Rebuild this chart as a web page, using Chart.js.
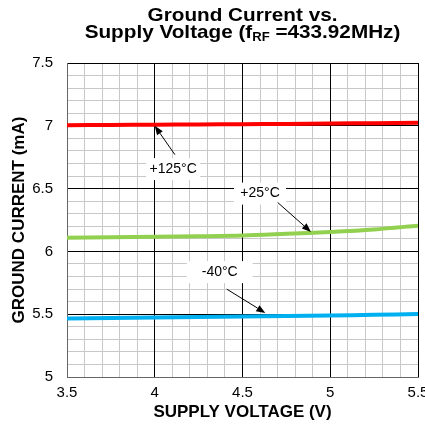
<!DOCTYPE html>
<html>

<head>
  <meta charset="utf-8">
  <title>Ground current vs supply voltage</title>
  <script src="https://cdn.jsdelivr.net/npm/chart.js@4.4.1/dist/chart.umd.min.js" type="text/javascript"></script>
  <style>
    body { margin: 0; background: #fff; }
  </style>
</head>

<body>
  <div style="position: absolute; left: 0; top: 0;">
    <canvas id="chart" width="425" height="428"></canvas>
  </div>
</body>

</html>

<script>
  // supply voltage (V) sample points
  const voltage = [3.5, 3.75, 4, 4.25, 4.5, 4.75, 5, 5.25, 5.5];

  // ground current (mA) per temperature
  const current125 = [7.005, 7.007, 7.009, 7.011, 7.013, 7.015, 7.018, 7.021, 7.025];
  const current25 = [6.108, 6.112, 6.116, 6.120, 6.126, 6.140, 6.155, 6.175, 6.205];
  const currentM40 = [5.466, 5.470, 5.474, 5.478, 5.482, 5.486, 5.490, 5.495, 5.502];

  const seriesNames = ['+125°C', '+25°C', '-40°C'];
  const seriesColors = ['#ff0000', '#92d050', '#00b0f0'];

  const xTickLabels = ['3.5', '4', '4.5', '5', '5.5'];
  const yTickLabels = ['5', '5.5', '6', '6.5', '7', '7.5'];

  const FONT = '"Liberation Sans", Arial, Helvetica, sans-serif';

  function pts(ys) {
    return voltage.map((v, i) => ({ x: v, y: ys[i] }));
  }

  function isMajor(v) {
    return Math.abs(v * 2 - Math.round(v * 2)) < 1e-6;
  }

  function gridColor(ctx) {
    return isMajor(ctx.tick.value) ? '#000' : '#c8c8c8';
  }

  function tickText(list) {
    return function (value) {
      if (!isMajor(value)) return '';
      const s = String(Math.round(value * 10) / 10);
      return list.indexOf(s) >= 0 ? s : '';
    };
  }

  // the y grid is painted after the x grid, so its grey lines cut the black
  // verticals; stroke the major verticals again on top
  const majorGridPlugin = {
    id: 'majorGrid',
    beforeDatasetsDraw(chart) {
      const ctx = chart.ctx;
      const xs = chart.scales.x;
      const area = chart.chartArea;
      ctx.save();
      ctx.strokeStyle = '#000';
      ctx.lineWidth = 1;
      xs.ticks.forEach(t => {
        if (!isMajor(t.value) || t.value <= xs.min) return;
        const px = Math.round(xs.getPixelForValue(t.value) - 0.5) + 0.5;
        ctx.beginPath();
        ctx.moveTo(px, area.top);
        ctx.lineTo(px, area.bottom);
        ctx.stroke();
      });
      ctx.restore();
    }
  };

  // callouts: label position, arrow tail and arrow tip, all in data units
  const callouts = [
    { text: '+125°C', at: [4.105, 6.655], w: 54, tail: [4.115, 6.77], tip: [4.0, 7.0] },
    { text: '+25°C', at: [4.60, 6.46], w: 52, tail: [4.70, 6.39], tip: [4.89, 6.155] },
    { text: '-40°C', at: [4.37, 5.835], w: 66, tail: [4.41, 5.70], tip: [4.63, 5.51] },
  ];

  const calloutPlugin = {
    id: 'callouts',
    afterDatasetsDraw(chart) {
      const ctx = chart.ctx;
      const xs = chart.scales.x;
      const ys = chart.scales.y;
      ctx.save();
      ctx.font = '14px ' + FONT;
      ctx.textAlign = 'center';
      ctx.textBaseline = 'middle';
      callouts.forEach(c => {
        const lx = xs.getPixelForValue(c.at[0]);
        const ly = ys.getPixelForValue(c.at[1]);
        ctx.fillStyle = '#fff';
        ctx.fillRect(lx - c.w / 2, ly - 11, c.w, 22);
        ctx.fillStyle = '#000';
        ctx.fillText(c.text, lx, ly);

        const x0 = xs.getPixelForValue(c.tail[0]);
        const y0 = ys.getPixelForValue(c.tail[1]);
        const x1 = xs.getPixelForValue(c.tip[0]);
        const y1 = ys.getPixelForValue(c.tip[1]);
        const a = Math.atan2(y1 - y0, x1 - x0);
        const head = 9;
        ctx.strokeStyle = '#000';
        ctx.lineWidth = 1;
        ctx.beginPath();
        ctx.moveTo(x0, y0);
        ctx.lineTo(x1 - Math.cos(a) * head, y1 - Math.sin(a) * head);
        ctx.stroke();
        ctx.beginPath();
        ctx.moveTo(x1, y1);
        ctx.lineTo(x1 - Math.cos(a) * head + Math.sin(a) * 3.5, y1 - Math.sin(a) * head - Math.cos(a) * 3.5);
        ctx.lineTo(x1 - Math.cos(a) * head - Math.sin(a) * 3.5, y1 - Math.sin(a) * head + Math.cos(a) * 3.5);
        ctx.closePath();
        ctx.fill();
      });
      ctx.restore();
    }
  };

  // two line title with a subscript; the original is a bit wider than Arial
  const titlePlugin = {
    id: 'twoLineTitle',
    afterDraw(chart) {
      const ctx = chart.ctx;
      const area = chart.chartArea;
      const cx = (area.left + area.right) / 2;
      const stretch = 1.09;
      ctx.save();
      ctx.fillStyle = '#000';
      ctx.textBaseline = 'alphabetic';
      ctx.translate(cx, 0);
      ctx.scale(stretch, 1);
      const big = 'bold 19px ' + FONT;
      const small = 'bold 12px ' + FONT;
      ctx.font = big;
      ctx.textAlign = 'center';
      ctx.fillText('Ground Current vs.', 0, 21);

      const parts = [
        { t: 'Supply Voltage (f', f: big, dy: 0 },
        { t: 'RF', f: small, dy: 3 },
        { t: ' =433.92MHz)', f: big, dy: 0 },
      ];
      let total = 0;
      parts.forEach(p => { ctx.font = p.f; p.w = ctx.measureText(p.t).width; total += p.w; });
      let x = -total / 2;
      ctx.textAlign = 'left';
      parts.forEach(p => {
        ctx.font = p.f;
        ctx.fillText(p.t, x, 37.5 + p.dy);
        x += p.w;
      });
      ctx.restore();
    }
  };

  const data = {
    datasets: [
      { label: seriesNames[0], data: pts(current125), borderColor: seriesColors[0] },
      { label: seriesNames[1], data: pts(current25), borderColor: seriesColors[1] },
      { label: seriesNames[2], data: pts(currentM40), borderColor: seriesColors[2] },
    ].map(d => Object.assign(d, {
      borderWidth: 4,
      pointRadius: 0,
      tension: 0.3,
      fill: false,
    }))
  };

  const options = {
    responsive: false,
    animation: false,
    events: [],
    layout: { padding: { top: 63, right: 7, left: 0, bottom: 0 } },
    plugins: {
      legend: { display: false },
      tooltip: { enabled: false },
    },
    scales: {
      x: {
        type: 'linear',
        min: 3.5,
        max: 5.5,
        afterFit(scale) {
          scale.height = 51;
          scale.paddingLeft = 0;
          scale.paddingRight = 0;
        },
        afterBuildTicks(scale) {
          const t = [];
          for (let i = 0; i <= 20; i++) t.push({ value: Math.round((3.5 + i * 0.1) * 10) / 10 });
          scale.ticks = t;
        },
        ticks: {
          autoSkip: false,
          maxRotation: 0,
          padding: 7,
          color: '#000',
          font: { family: FONT, size: 15 },
          callback: tickText(xTickLabels),
        },
        grid: { color: gridColor, lineWidth: 1, drawTicks: false },
        border: { color: '#666', width: 1 },
        title: {
          display: true,
          text: 'SUPPLY VOLTAGE (V)',
          color: '#000',
          font: { family: FONT, size: 17, weight: 'bold' },
          padding: { top: 0, bottom: 5 },
        },
      },
      y: {
        type: 'linear',
        min: 5,
        max: 7.5,
        afterFit(scale) {
          scale.width = 67;
          scale.paddingTop = 0;
          scale.paddingBottom = 0;
        },
        afterBuildTicks(scale) {
          const t = [];
          for (let i = 0; i <= 25; i++) t.push({ value: Math.round((5 + i * 0.1) * 10) / 10 });
          scale.ticks = t;
        },
        ticks: {
          autoSkip: false,
          padding: 14,
          color: '#000',
          font: { family: FONT, size: 15 },
          callback: tickText(yTickLabels),
        },
        grid: { color: gridColor, lineWidth: 1, drawTicks: false },
        border: { color: '#666', width: 1 },
        title: {
          display: true,
          text: 'GROUND CURRENT (mA)',
          color: '#000',
          font: { family: FONT, size: 17, weight: 'bold' },
          padding: { top: 9, bottom: 0 },
        },
      },
    },
  };

  const chart = new Chart(document.getElementById('chart'), {
    type: 'line',
    data: data,
    options: options,
    plugins: [majorGridPlugin, calloutPlugin, titlePlugin],
  });
</script>
